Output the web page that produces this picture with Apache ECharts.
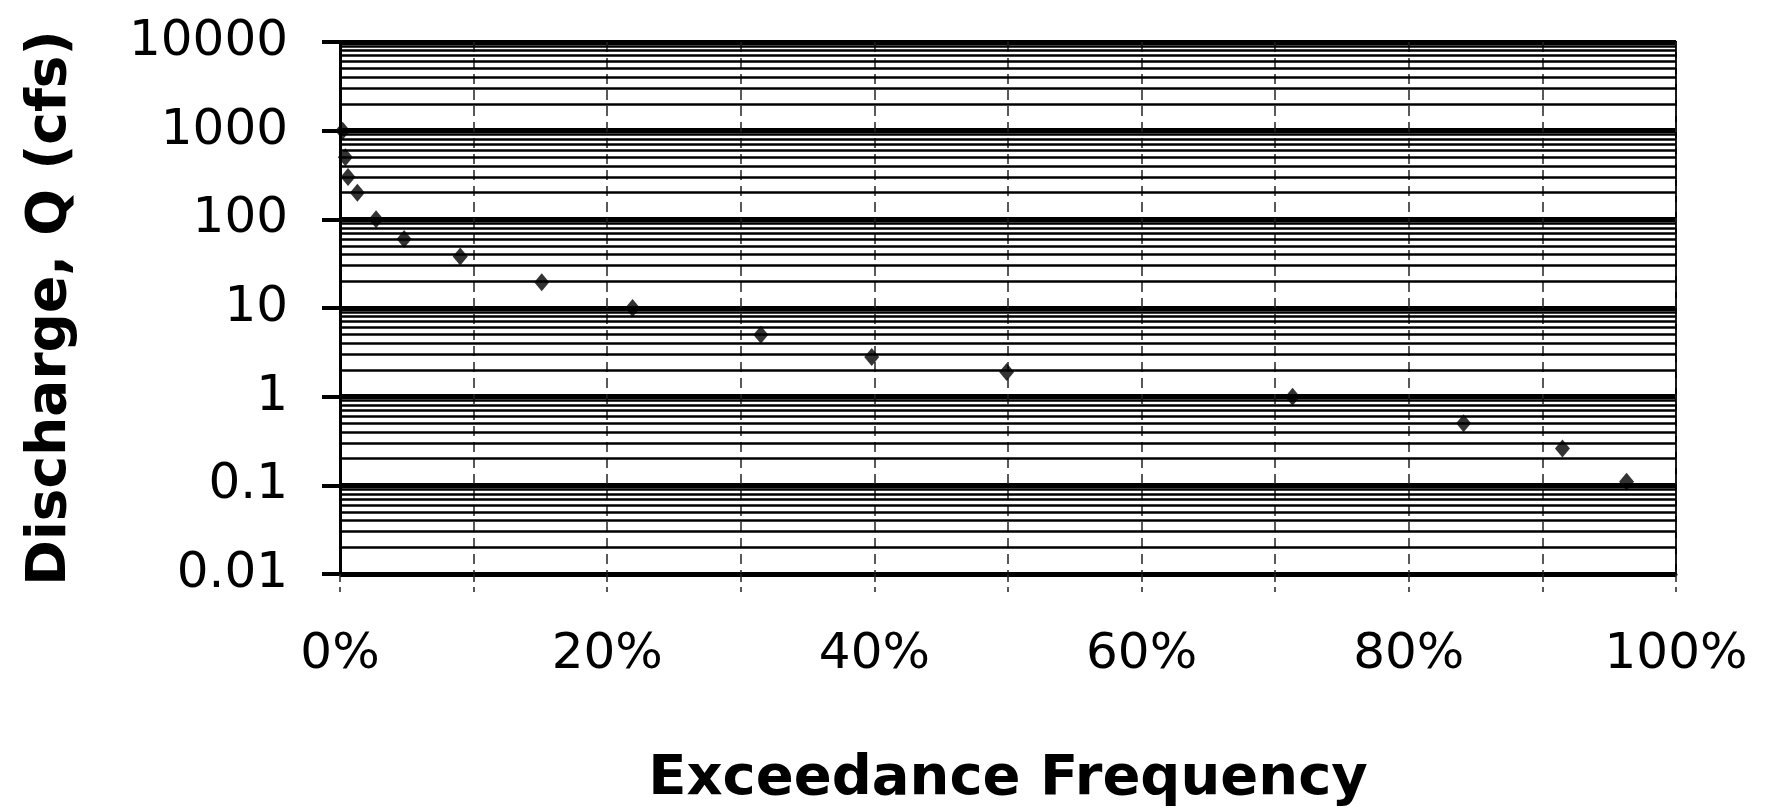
<!DOCTYPE html>
<html>
<head>
<meta charset="utf-8">
<script src="https://cdn.jsdelivr.net/npm/echarts@6/dist/echarts.min.js"></script>
<style>
  html, body { margin: 0; padding: 0; background: #fff; }
  #chart { width: 1767px; height: 812px; }
</style>
</head>
<body>
<div id="chart"></div>
<script>
// exceedance frequency (%) and discharge (cfs)
const exceedPct = [0.2, 0.4, 0.6, 1.3, 2.7, 4.8, 9.0, 15.1, 21.9, 31.5, 39.8, 49.9, 71.3, 84.1, 91.5, 96.3];
const discharge = [1000, 500, 300, 200, 100, 60, 38, 19.5, 10, 5, 2.8, 1.9, 1, 0.5, 0.26, 0.11];

// log axis decades and the minor steps drawn inside each decade
const decades = [0.01, 0.1, 1, 10, 100, 1000];
const minorSteps = [2, 3, 4, 5, 6, 7, 8, 9];

const font = 'DejaVu Sans';

// minor horizontal grid lines (2..9 x each decade)
const minorLines = [];
decades.forEach(d => {
  minorSteps.forEach(m => minorLines.push({ yAxis: +(d * m).toPrecision(3) }));
});

const chart = echarts.init(document.getElementById('chart'));

const option = {
  backgroundColor: '#fff',
  animation: false,
  grid: {
    left: 340,
    right: 91,
    top: 42,
    bottom: 236,
    show: true,
    borderColor: '#000',
    borderWidth: 2,
    backgroundColor: 'transparent'
  },
  xAxis: {
    type: 'value',
    min: 0,
    max: 100,
    interval: 10,
    name: 'Exceedance Frequency',
    nameLocation: 'middle',
    nameGap: 177,
    nameTextStyle: { fontFamily: font, fontWeight: 'bold', fontSize: 56, color: '#000' },
    axisLine: { show: true, lineStyle: { color: '#000', width: 3 } },
    axisTick: { show: true, length: 18, inside: false, lineStyle: { color: '#222', width: 1.5, type: [8, 5] } },
    axisLabel: {
      margin: 56,
      fontFamily: font,
      fontSize: 50,
      color: '#000',
      formatter: v => (Math.round(v) % 20 === 0 ? Math.round(v) + '%' : '')
    },
    splitLine: { show: true, lineStyle: { color: '#222', width: 1.5, type: [10, 6] } }
  },
  yAxis: {
    type: 'log',
    logBase: 10,
    min: 0.01,
    max: 10000,
    splitNumber: 6,
    name: 'Discharge, Q (cfs)',
    nameLocation: 'middle',
    nameGap: 262,
    nameTextStyle: { fontFamily: font, fontWeight: 'bold', fontSize: 55, color: '#000' },
    axisLine: { show: true, lineStyle: { color: '#000', width: 3 } },
    axisTick: { show: true, length: 18, lineStyle: { color: '#000', width: 4 } },
    axisLabel: {
      margin: 52,
      fontFamily: font,
      fontSize: 50,
      color: '#000',
      formatter: v => String(Number(Number(v).toPrecision(3)))
    },
    splitLine: { show: true, lineStyle: { color: '#000', width: 5 } }
  },
  series: [
    {
      // carrier for the minor grid lines
      type: 'line',
      data: [],
      z: 1,
      silent: true,
      markLine: {
        silent: true,
        symbol: 'none',
        label: { show: false },
        lineStyle: { color: '#000', width: 2.5, type: 'solid' },
        emphasis: { disabled: true },
        animation: false,
        data: minorLines
      }
    },
    {
      name: 'Discharge',
      type: 'scatter',
      z: 5,
      clip: false,
      symbol: 'diamond',
      symbolSize: [15, 18],
      itemStyle: { color: '#000' },
      data: exceedPct.map((x, i) => [x, discharge[i]])
    }
  ]
};

chart.setOption(option);
</script>
</body>
</html>
